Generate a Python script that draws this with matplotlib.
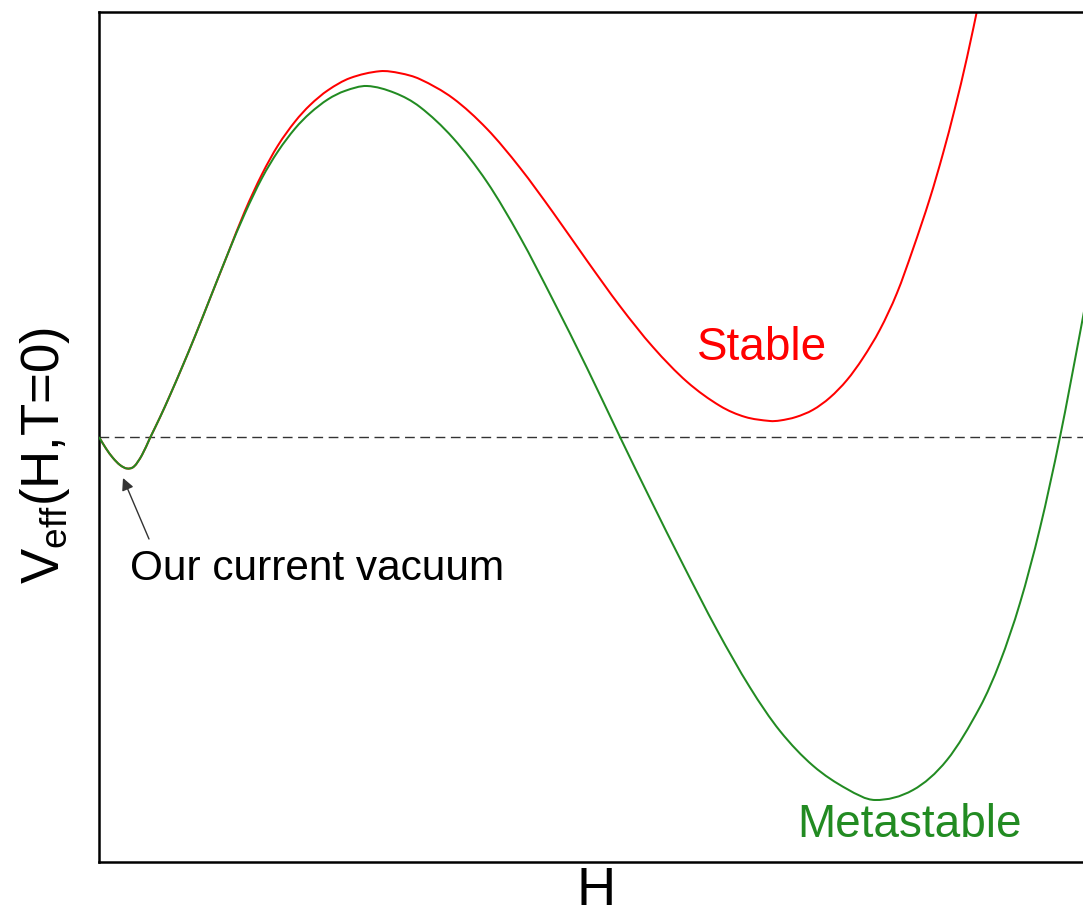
import matplotlib
matplotlib.use("Agg")
import matplotlib.pyplot as plt
from matplotlib.path import Path
from matplotlib.patches import PathPatch

plt.rcParams['font.family'] = ['Liberation Sans', 'DejaVu Sans']
plt.rcParams['mathtext.fontset'] = 'custom'
plt.rcParams['mathtext.rm'] = 'Liberation Sans'
plt.rcParams['mathtext.it'] = 'Liberation Sans:italic'

# Shared low-field part of both potentials (field value H, potential V)
h_low = [0.00, 0.07, 0.14, 0.21, 0.28, 0.35, 0.43, 0.51, 0.61, 0.71, 0.83,
         0.96, 1.11, 1.29]
v_low = [0.000, -0.115, -0.210, -0.280, -0.315, -0.295, -0.180, -0.010,
         0.197, 0.418, 0.696, 1.008, 1.385, 1.837]

# Metastable scenario, beyond the shared part
h_meta_hi = [1.46, 1.63, 1.79, 1.96, 2.11, 2.29, 2.46, 2.68, 2.96, 3.21,
             3.54, 3.88, 4.21, 4.54, 4.88, 5.21, 5.51, 5.84, 6.18, 6.51,
             6.81, 7.14, 7.48, 7.76, 8.14, 8.48, 8.81, 9.01, 9.21, 9.41,
             9.61, 9.81, 9.96]
v_meta_hi = [2.238, 2.590, 2.857, 3.084, 3.238, 3.377, 3.461, 3.510, 3.440,
             3.300, 2.990, 2.550, 2.000, 1.370, 0.690, 0.000, -0.615,
             -1.275, -1.930, -2.505, -2.940, -3.287, -3.520, -3.630, -3.530,
             -3.230, -2.700, -2.250, -1.660, -0.910, 0.000, 1.040, 1.850]

# Stable scenario, beyond the shared part
h_stable_hi = [1.46, 1.63, 1.79, 1.96, 2.11, 2.29, 2.51, 2.81, 3.01, 3.21,
               3.54, 3.88, 4.21, 4.54, 4.88, 5.21, 5.54, 5.88, 6.21, 6.46,
               6.71, 6.81, 6.97, 7.14, 7.31, 7.48, 7.64, 7.81, 7.98, 8.14,
               8.31, 8.44, 8.56, 8.68, 8.81]
v_stable_hi = [2.262, 2.628, 2.916, 3.154, 3.319, 3.468, 3.589, 3.658, 3.638,
               3.578, 3.387, 3.081, 2.692, 2.246, 1.763, 1.308, 0.899, 0.552,
               0.311, 0.201, 0.160, 0.165, 0.200, 0.272, 0.395, 0.570, 0.790,
               1.075, 1.440, 1.880, 2.390, 2.835, 3.291, 3.795, 4.406]

h_meta = h_low + h_meta_hi
v_meta = v_low + v_meta_hi
h_stable = h_low + h_stable_hi
v_stable = v_low + v_stable_hi

RED = '#ff0000'
GREEN = '#228b22'


def smooth_curve(ax, xs, ys, **kw):
    """Draw y(x) through every sample with cubic Hermite segments whose
    tangents come from neighbouring samples (handles uneven x spacing)."""
    n = len(xs)
    slopes = []
    for i in range(n):
        a = max(i - 1, 0)
        b = min(i + 1, n - 1)
        slopes.append((ys[b] - ys[a]) / (xs[b] - xs[a]))
    verts = [(xs[0], ys[0])]
    codes = [Path.MOVETO]
    for i in range(n - 1):
        h = xs[i + 1] - xs[i]
        c1 = (xs[i] + h / 3.0, ys[i] + slopes[i] * h / 3.0)
        c2 = (xs[i + 1] - h / 3.0, ys[i + 1] - slopes[i + 1] * h / 3.0)
        verts += [c1, c2, (xs[i + 1], ys[i + 1])]
        codes += [Path.CURVE4] * 3
    patch = PathPatch(Path(verts, codes), facecolor='none', **kw)
    ax.add_patch(patch)
    return patch


fig = plt.figure(figsize=(10.83, 9.15), dpi=100)
ax = fig.add_axes([99 / 1083, 53 / 915, 991 / 1083, 850 / 915])

ax.axhline(0.0, color='#333333', lw=1.0, dashes=(7, 4), zorder=1)
smooth_curve(ax, h_stable, v_stable, edgecolor=RED, lw=1.45, zorder=2)
smooth_curve(ax, h_meta, v_meta, edgecolor=GREEN, lw=1.45, zorder=3)

ax.set_xlim(0, 9.91)
ax.set_ylim(-4.25, 4.25)
ax.set_xticks([])
ax.set_yticks([])
for s in ax.spines.values():
    s.set_linewidth(1.8)
    s.set_color('black')

ax.text(5.98, 0.77, 'Stable', color=RED, fontsize=33, ha='left', va='baseline')
ax.text(6.98, -4.00, 'Metastable', color=GREEN, fontsize=33, ha='left', va='baseline')
ax.text(0.31, -1.43, 'Our current vacuum', color='black', fontsize=30.5,
        ha='left', va='baseline')
ax.annotate('', xy=(0.24, -0.41), xytext=(0.50, -1.02),
            arrowprops=dict(arrowstyle='-|>', color='#333333', lw=1.0,
                            mutation_scale=18, shrinkA=0, shrinkB=0))

fig.text(596 / 1083, 1 - 891 / 915, 'H', fontsize=39, ha='center', va='center')
fig.text(45 / 1083, 1 - 455 / 915, r'V$_{\rm eff}$(H,T=0)', fontsize=38,
         rotation=90, ha='center', va='center')

fig.savefig('out.png', dpi=100)
